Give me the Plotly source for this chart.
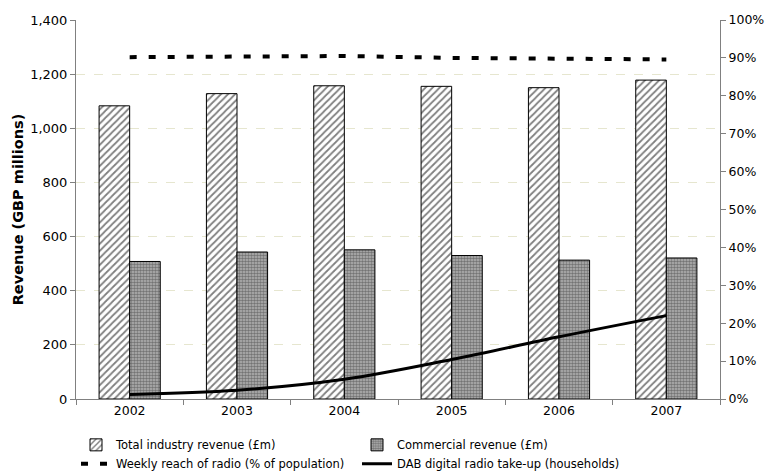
import plotly.graph_objects as go

years = ["2002", "2003", "2004", "2005", "2006", "2007"]
total_revenue = [1083, 1128, 1157, 1155, 1150, 1178]
commercial_revenue = [508, 543, 551, 530, 513, 521]
weekly_reach = [0.902, 0.904, 0.905, 0.900, 0.897, 0.896]
dab_takeup = [0.012, 0.023, 0.052, 0.104, 0.164, 0.220]

FONT = "DejaVu Sans, Verdana, sans-serif"

fig = go.Figure()

fig.add_trace(go.Bar(
    x=years, y=total_revenue, name="Total industry revenue (£m)",
    marker=dict(color="white", line=dict(color="black", width=1),
                pattern=dict(shape="/", fgcolor="black", bgcolor="white",
                             size=5, solidity=0.35)),
))
fig.add_trace(go.Bar(
    x=years, y=commercial_revenue, name="Commercial revenue (£m)",
    marker=dict(color="#8c8c8c", line=dict(color="black", width=1),
                pattern=dict(shape=".", fgcolor="#333333", bgcolor="#b4b4b4",
                             size=3, solidity=0.55)),
))
fig.add_trace(go.Scatter(
    x=years, y=weekly_reach, name="Weekly reach of radio (% of population)",
    yaxis="y2", mode="lines",
    line=dict(color="black", width=4, dash="7px,12px"),
))
fig.add_trace(go.Scatter(
    x=years, y=dab_takeup, name="DAB digital radio take-up (households)",
    yaxis="y2", mode="lines",
    line=dict(color="black", width=3, shape="spline"),
))

fig.update_layout(
    width=776, height=475,
    margin=dict(l=76, r=50, t=16, b=76),
    paper_bgcolor="white", plot_bgcolor="white",
    font=dict(family=FONT, size=12.5, color="black"),
    barmode="group", bargap=0.43, bargroupgap=0,
    showlegend=True,
    legend=dict(orientation="h", x=0.0, xanchor="left",
                yref="container", y=0.094, yanchor="top",
                entrywidth=236, entrywidthmode="pixels",
                font=dict(family=FONT, size=11.5), tracegroupgap=0,
                traceorder="normal"),
    xaxis=dict(showline=True, linecolor="#808080", linewidth=1,
               ticks="outside", tickson="boundaries", ticklen=5,
               tickcolor="#808080", showgrid=False),
    yaxis=dict(range=[0, 1400], dtick=200, tickformat=",d",
               showline=True, linecolor="#808080", linewidth=1,
               ticks="outside", ticklen=5, tickcolor="#808080",
               tickfont=dict(size=13),
               showgrid=True, gridcolor="#e6e6cf", griddash="dash",
               gridwidth=1, zeroline=False,
               title=dict(text="<b>Revenue (GBP millions)</b>", standoff=3,
                          font=dict(size=14.5))),
    yaxis2=dict(range=[0, 1], dtick=0.1, tickformat=".0%", overlaying="y",
                side="right", showline=True, linecolor="#808080", linewidth=1,
                ticks="outside", ticklen=5, tickcolor="#808080",
                showgrid=False, zeroline=False),
)

fig.write_html("out.html")
